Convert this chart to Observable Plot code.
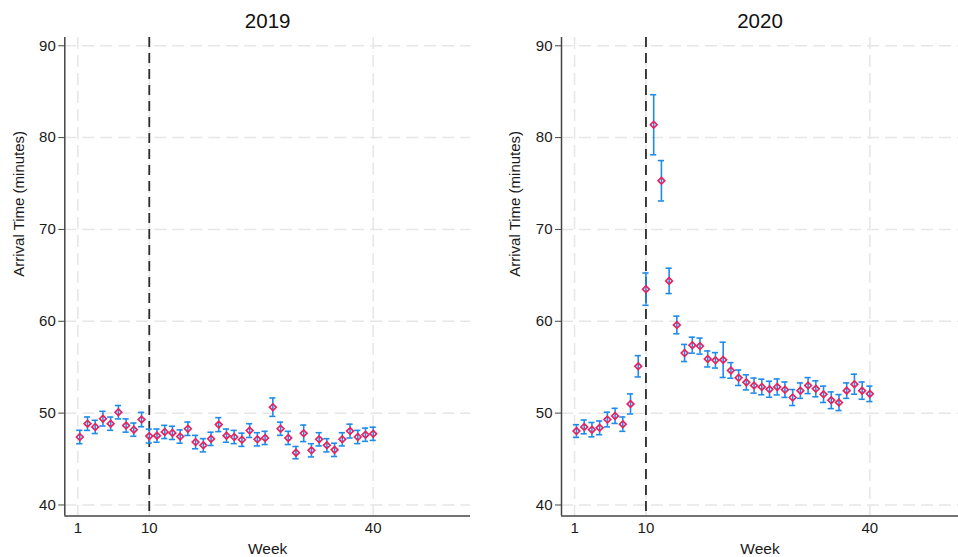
<!DOCTYPE html>
<html>
<head>
<meta charset="utf-8">
<script src="https://cdn.jsdelivr.net/npm/d3@7"></script>
<script src="https://cdn.jsdelivr.net/npm/@observablehq/plot@0.6"></script>
<style>
  html, body { margin: 0; padding: 0; background: #fff; }
  #wrap { display: flex; width: 958px; height: 557px; overflow: hidden; }
  #wrap svg { flex: none; }
</style>
</head>
<body>
<div id="wrap"></div>
<script>
// Observation index along the x axis (39 weekly points per year)
const weeks = [1,2,3,4,5,6,7,8,9,10,11,12,13,14,15,16,17,18,19,20,21,22,23,24,25,26,27,28,29,30,31,32,33,34,35,36,37,38,39];

// 2019 mean arrival time and half-width of 95% CI
const mean2019 = [47.4,48.85,48.5,49.4,48.85,50.1,48.65,48.2,49.3,47.5,47.55,47.95,47.85,47.45,48.3,46.85,46.5,47.2,48.75,
                  47.55,47.4,47.1,48.1,47.15,47.3,50.65,48.3,47.3,45.7,47.8,45.95,47.15,46.5,46.0,47.15,48.05,47.4,47.65,47.75];
const err2019  = [0.73,0.73,0.72,0.8,0.72,0.73,0.72,0.72,0.78,0.76,0.72,0.72,0.72,0.72,0.73,0.73,0.72,0.72,0.76,
                  0.72,0.72,0.72,0.75,0.72,0.72,1.0,0.72,0.72,0.67,0.9,0.72,0.72,0.72,0.72,0.72,0.75,0.72,0.72,0.72];

// 2020 mean arrival time and half-width of 95% CI
const mean2020 = [48.05,48.5,48.2,48.4,49.3,49.7,48.8,51.0,55.1,63.5,81.4,75.3,64.4,59.6,56.55,57.4,57.3,55.9,55.75,
                  55.8,54.65,53.85,53.35,53.0,52.85,52.6,52.85,52.55,51.7,52.45,53.0,52.65,52.05,51.4,51.15,52.45,53.15,52.45,52.1];
const err2020  = [0.69,0.75,0.78,0.75,0.8,0.82,0.78,1.09,1.16,1.76,3.27,2.2,1.38,0.96,0.93,0.87,0.87,0.87,0.84,
                  1.92,0.85,0.84,0.82,0.82,0.85,0.87,0.87,0.84,0.87,0.84,0.87,0.87,0.89,0.91,0.87,0.84,1.09,0.94,0.84];

const titles = ["2019", "2020"];
const yTicks = [40, 50, 60, 70, 80, 90];
const xTickPos = [0.75, 10, 39];
const xTickLabels = ["1", "10", "40"];
const cutoffWeek = 10;
const yLabel = "Arrival Time (minutes)";
const xLabel = "Week";

const xLabelMap = new Map(xTickPos.map((p, i) => [p, xTickLabels[i]]));
const yDomain = [38.8, 90.9];
const blue = "#1f8ceb";
const pink = "#e8235f";
const capHalf = 0.4;

function panel(title, means, errs, opts) {
  const data = weeks.map((w, i) => ({week: w, mean: means[i], lo: means[i] - errs[i], hi: means[i] + errs[i]}));
  const grid = {stroke: "#e6e6e6", strokeOpacity: 1, strokeWidth: 1.5, strokeDasharray: "12,6"};
  return Plot.plot({
    width: 479,
    height: 557,
    marginLeft: opts.marginLeft,
    marginRight: opts.marginRight,
    marginTop: 37,
    marginBottom: 41.5,
    style: {fontFamily: "'Liberation Sans', Arial, sans-serif", fontSize: "15px", color: "#1a1a1a", background: "#fff"},
    x: {domain: opts.xDomain},
    y: {domain: yDomain},
    marks: [
      Plot.gridY(yTicks, grid),
      Plot.gridX(xTickPos, grid),
      Plot.ruleX([cutoffWeek], {stroke: "#2b2b2b", strokeWidth: 1.8, strokeDasharray: "10,6"}),
      Plot.ruleX([opts.xDomain[0]], {stroke: "#444", strokeWidth: 1.5}),
      Plot.ruleY([yDomain[0]], {stroke: "#444", strokeWidth: 1.5}),
      Plot.axisY(yTicks, {tickSize: 6, tickPadding: 3, label: null, fontSize: 15, stroke: "#444"}),
      Plot.axisX(xTickPos, {tickSize: 0, tickPadding: 6, label: null, fontSize: 15, tickFormat: d => xLabelMap.get(d)}),
      Plot.ruleX(data, {x: "week", y1: "lo", y2: "hi", stroke: blue, strokeWidth: 1.6}),
      Plot.ruleY(data, {y: "lo", x1: d => d.week - capHalf, x2: d => d.week + capHalf, stroke: blue, strokeWidth: 1.6}),
      Plot.ruleY(data, {y: "hi", x1: d => d.week - capHalf, x2: d => d.week + capHalf, stroke: blue, strokeWidth: 1.6}),
      Plot.dot(data, {x: "week", y: "mean", symbol: "diamond2", r: 3.0, stroke: pink, strokeWidth: 1.7, fill: "none"}),
      Plot.text([title], {frameAnchor: "top", lineAnchor: "middle", dy: -16, fontSize: 20.5, fill: "#111"}),
      Plot.text([xLabel], {frameAnchor: "bottom", lineAnchor: "middle", dy: 33, fontSize: 15.5, fill: "#1a1a1a"}),
      Plot.text([yLabel], {frameAnchor: "left", lineAnchor: "middle", dx: -46, rotate: -90, fontSize: 15, fill: "#1a1a1a"})
    ]
  });
}

const wrap = document.getElementById("wrap");
wrap.appendChild(panel(titles[0], mean2019, err2019, {marginLeft: 64.3, marginRight: 9, xDomain: [-0.94, 51.6]}));
wrap.appendChild(panel(titles[1], mean2020, err2020, {marginLeft: 82, marginRight: 0, xDomain: [-0.94, 50.48]}));
</script>
</body>
</html>
